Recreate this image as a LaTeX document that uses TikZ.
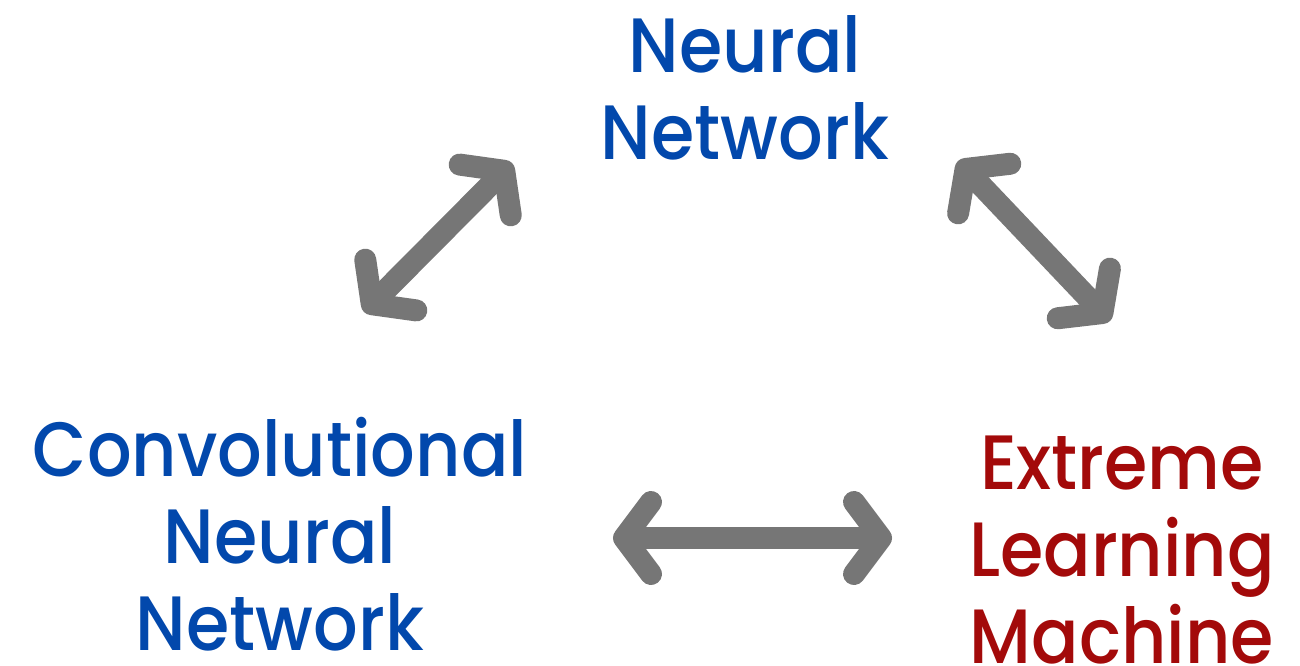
\documentclass[tikz,border=0pt]{standalone}
\usepackage{fontspec}
\setmainfont{Poppins}[UprightFont=* Medium, FakeStretch=0.91]
\usetikzlibrary{arrows.meta}
\definecolor{nnblue}{RGB}{2,72,172}
\definecolor{elmred}{RGB}{163,10,10}
\definecolor{linkgray}{RGB}{118,118,118}
\tikzset{
  label/.style={align=center, inner sep=0pt, font=\fontsize{77}{87}\selectfont},
  link/.style={draw=linkgray, line width=22pt, line cap=round, line join=round,
    {Straight Barb[length=27pt,width=72pt,round]}-{Straight Barb[length=27pt,width=72pt,round]}}
}
\begin{document}
\begin{tikzpicture}[x=1pt,y=-1pt]
\useasboundingbox (0,0) rectangle (1300,666);
\node[label, text=nnblue, anchor=base] (nn) at (745,159) {Neural\\Network};
\node[label, text=nnblue, anchor=base] (cnn) at (280,650) {Convolutional\\Neural\\Network};
\node[label, text=elmred, anchor=base] (elm) at (1122,663) {Extreme\\Learning\\Machine};
\coordinate (l1) at (364,312);
\coordinate (l2) at (512,163);
\coordinate (r1) at (958,161);
\coordinate (r2) at (1110,321);
\coordinate (h1) at (613,538);
\coordinate (h2) at (892,538);
\draw[link] (l1) -- (l2);
\draw[link] (r1) -- (r2);
\draw[link] (h1) -- (h2);
\end{tikzpicture}
\end{document}
